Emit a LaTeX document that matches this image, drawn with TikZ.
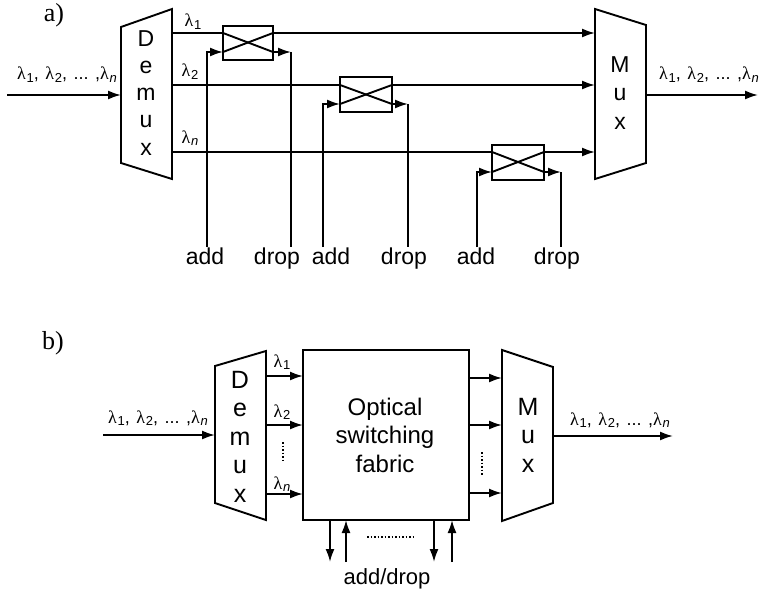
\documentclass[tikz,border=0pt]{standalone}
\usepackage{fontspec}
\setmainfont{Liberation Sans}
\newfontfamily\seriffont{Liberation Serif}
\usetikzlibrary{arrows.meta}
\newcommand\lm[1]{{\seriffont λ}\kern0.8pt\raisebox{-0.3ex}{\fontsize{13}{13}\selectfont #1}}
\newcommand\lseq{\lm{1},\hspace{6.5pt}\lm{2},\hspace{6.5pt}...\hspace{6.5pt},\lm{\textit{n}}}
\begin{document}
\begin{tikzpicture}[x=1pt,y=-1pt,line width=1.9pt,
  arr/.style={-{Latex[length=13pt,width=9pt]}},
  lbl/.style={font=\fontsize{18}{18}\selectfont,inner sep=0pt,anchor=base},
  big/.style={font=\fontsize{23}{23}\selectfont,inner sep=0pt,anchor=base},
  bigb/.style={font=\fontsize{25}{25}\selectfont,inner sep=0pt,anchor=base},
  tag/.style={font=\seriffont\fontsize{26}{26}\selectfont,inner sep=0pt,anchor=base},
  swbox/.style={draw,line width=1.9pt,inner sep=0pt},
  dotline/.style={dash pattern=on 1.5pt off 2pt,line width=1.6pt}]
\useasboundingbox (0,0) rectangle (763,591);
% ---------------- a) ----------------
\node[tag] (ta) at (54,22) {a)};
% demux
\draw (121,27) coordinate (dAtl) -- (172,9) coordinate (dAtr) -- (172,179) coordinate (dAbr) -- (121,163) coordinate (dAbl) -- cycle;
\foreach \l/\y [count=\i] in {D/47,e/74,m/101,u/128,x/156} \node[big] (dAl\i) at (146,\y) {\l};
% mux
\draw (595,9) coordinate (mAtl) -- (646,25) coordinate (mAtr) -- (646,163) coordinate (mAbr) -- (595,179) coordinate (mAbl) -- cycle;
\foreach \l/\y [count=\i] in {M/73,u/101,x/130} \node[big] (mAl\i) at (620,\y) {\l};
% input / output
\coordinate (inA) at (7,95); \coordinate (dAin) at (121,95);
\draw[arr] (inA) -- (dAin);
\node[lbl] (inAl) at (67,80) {\lseq};
\coordinate (mAout) at (646,95); \coordinate (outA) at (758,95);
\draw[arr] (mAout) -- (outA);
\node[lbl] (outAl) at (709,80) {\lseq};
% channel labels
\node[lbl] (l1) at (193,27) {\lm{1}};
\node[lbl] (l2) at (190,77) {\lm{2}};
\node[lbl] (ln) at (190,143) {\lm{\textit{n}}};
% switch 1
\node[swbox,minimum width=50pt,minimum height=34pt] (s1) at (248,43) {};
\coordinate (s1i1) at (223,33); \coordinate (s1i2) at (223,52);
\coordinate (s1o1) at (273,33); \coordinate (s1o2) at (273,52);
\draw (s1i1) -- (s1o2); \draw (s1i2) -- (s1o1);
\coordinate (dA1) at (172,33); \coordinate (mA1) at (595,33);
\draw (dA1) -- (s1i1);
\draw[arr] (s1o1) -- (mA1);
\coordinate (add1) at (207,247);
\draw[arr] (add1) |- (s1i2);
\coordinate (dr1c) at (291,52); \coordinate (dr1) at (291,247);
\draw[arr] (s1o2) -- (dr1c); \draw (dr1c) -- (dr1);
% switch 2
\node[swbox,minimum width=52pt,minimum height=35pt] (s2) at (366,94.5) {};
\coordinate (s2i1) at (340,85); \coordinate (s2i2) at (340,104);
\coordinate (s2o1) at (392,85); \coordinate (s2o2) at (392,104);
\draw (s2i1) -- (s2o2); \draw (s2i2) -- (s2o1);
\coordinate (dA2) at (172,85); \coordinate (mA2) at (595,85);
\draw (dA2) -- (s2i1);
\draw[arr] (s2o1) -- (mA2);
\coordinate (add2) at (323,247);
\draw[arr] (add2) |- (s2i2);
\coordinate (dr2c) at (408,104); \coordinate (dr2) at (408,247);
\draw[arr] (s2o2) -- (dr2c); \draw (dr2c) -- (dr2);
% switch 3
\node[swbox,minimum width=52pt,minimum height=35pt] (s3) at (518,162.5) {};
\coordinate (s3i1) at (492,152); \coordinate (s3i2) at (492,172);
\coordinate (s3o1) at (544,152); \coordinate (s3o2) at (544,172);
\draw (s3i1) -- (s3o2); \draw (s3i2) -- (s3o1);
\coordinate (dA3) at (172,152); \coordinate (mA3) at (595,152);
\draw (dA3) -- (s3i1);
\draw[arr] (s3o1) -- (mA3);
\coordinate (add3) at (477,247);
\draw[arr] (add3) |- (s3i2);
\coordinate (dr3c) at (561,172); \coordinate (dr3) at (561,247);
\draw[arr] (s3o2) -- (dr3c); \draw (dr3c) -- (dr3);
% bottom labels
\foreach \t/\x [count=\i] in {add/205,drop/277,add/331,drop/404,add/476,drop/557}
  \node[big] (bl\i) at (\x,264) {\t};
% ---------------- b) ----------------
\node[tag] (tb) at (53,349) {b)};
\draw (215,366) coordinate (dBtl) -- (266,351) coordinate (dBtr) -- (266,520) coordinate (dBbr) -- (215,503) coordinate (dBbl) -- cycle;
\foreach \l/\y [count=\i] in {D/388,e/416.5,m/445,u/473.5,x/502} \node[bigb] (dBl\i) at (240,\y) {\l};
\node[swbox,minimum width=166pt,minimum height=170pt] (fab) at (386,435) {};
\node[font=\fontsize{24}{28.5}\selectfont,align=center,inner sep=0pt] (fabt) at (385,435) {Optical\\switching\\fabric};
\draw (502,350) coordinate (mBtl) -- (553,367) coordinate (mBtr) -- (553,503) coordinate (mBbr) -- (502,521) coordinate (mBbl) -- cycle;
\foreach \l/\y [count=\i] in {M/415,u/443.5,x/472} \node[bigb] (mBl\i) at (528,\y) {\l};
% input/output
\coordinate (inB) at (103,435); \coordinate (dBin) at (215,435);
\draw[arr] (inB) -- (dBin);
\node[lbl] (inBl) at (158,423) {\lseq};
\coordinate (mBout) at (553,436); \coordinate (outB) at (673,436);
\draw[arr] (mBout) -- (outB);
\node[lbl] (outBl) at (620,425) {\lseq};
% demux -> fabric
\foreach \y [count=\i] in {376,425,494} {
  \coordinate (dBo\i) at (266,\y); \coordinate (fi\i) at (303,\y);
  \draw[arr] (dBo\i) -- (fi\i);
}
\node[lbl] (bl1) at (282,367) {\lm{1}};
\node[lbl] (bl2) at (282,417) {\lm{2}};
\node[lbl] (bln) at (282,489) {\lm{\textit{n}}};
\coordinate (dv1a) at (283,442); \coordinate (dv1b) at (283,463);
\draw[dotline] (dv1a) -- (dv1b);
% fabric -> mux
\foreach \y [count=\i] in {378,425,493} {
  \coordinate (fo\i) at (469,\y); \coordinate (mBi\i) at (502,\y);
  \draw[arr] (fo\i) -- (mBi\i);
}
\coordinate (dv2a) at (482,452); \coordinate (dv2b) at (482,475);
\draw[dotline] (dv2a) -- (dv2b);
% add/drop ports
\foreach \x [count=\i] in {330,434} {
  \coordinate (pd\i) at (\x,520); \coordinate (pde\i) at (\x,562);
  \draw[arr] (pd\i) -- (pde\i);
}
\foreach \x [count=\i] in {346,452} {
  \coordinate (pa\i) at (\x,562); \coordinate (pae\i) at (\x,520);
  \draw[arr] (pa\i) -- (pae\i);
}
\coordinate (hd1) at (367,537); \coordinate (hd2) at (415,537);
\draw[dotline] (hd1) -- (hd2);
\node[font=\fontsize{22}{22}\selectfont,inner sep=0pt,anchor=base] (ad) at (387,584) {add/drop};
\end{tikzpicture}
\end{document}
